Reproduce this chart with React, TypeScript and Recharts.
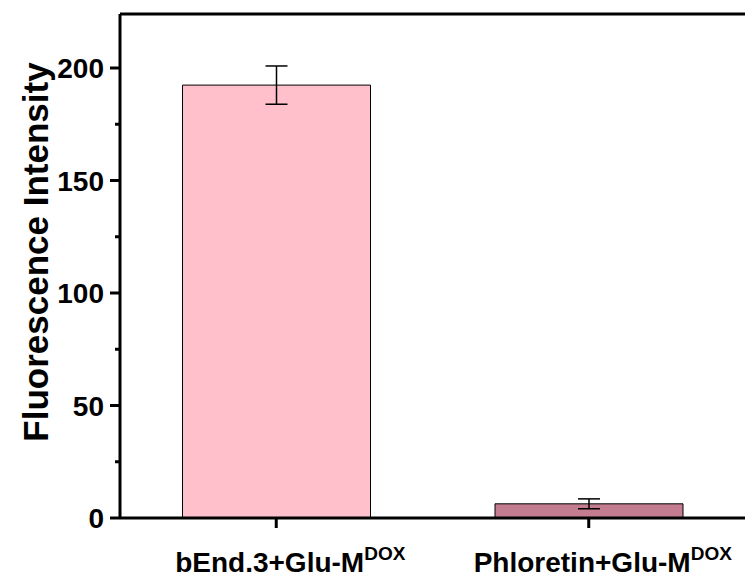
import { BarChart, Bar, Cell, ErrorBar, XAxis, YAxis, ReferenceLine } from 'recharts';

const CATEGORIES = ['bEnd.3+Glu-M', 'Phloretin+Glu-M'];
const CATEGORY_SUPERSCRIPTS = ['DOX', 'DOX'];
const INTENSITY = [192.4, 6.3];
const INTENSITY_ERR = [8.5, 2.2];
const BAR_COLORS = ['#FFC0CB', '#C47C91'];
const Y_TICKS = [0, 25, 50, 75, 100, 125, 150, 175, 200];
const Y_LABELED = [0, 50, 100, 150, 200];
const Y_MAX = 224;

const FONT = 'Arial, "Liberation Sans", Helvetica, sans-serif';

const data = CATEGORIES.map((name, i) => ({
  name,
  value: INTENSITY[i],
  err: INTENSITY_ERR[i],
}));

const XTick = (props: any) => {
  const { x, y, payload, index } = props;
  return (
    <g>
      <line x1={x} x2={x} y1={y} y2={y + 10} stroke="#000" strokeWidth={3} />
      <text
        x={x + 14}
        y={572}
        textAnchor="middle"
        fontFamily={FONT}
        fontWeight="bold"
        fontSize={28}
        fill="#000"
      >
        {payload.value}
        <tspan dy={-12} fontSize={19}>
          {CATEGORY_SUPERSCRIPTS[index]}
        </tspan>
      </text>
    </g>
  );
};

const YTick = (props: any) => {
  const { x, y, payload } = props;
  const major = Y_LABELED.includes(payload.value);
  return (
    <g>
      <line x1={x - (major ? 10 : 5)} x2={x} y1={y} y2={y} stroke="#000" strokeWidth={3} />
      {major && (
        <text
          x={x - 16}
          y={y}
          dy="0.36em"
          textAnchor="end"
          fontFamily={FONT}
          fontWeight="bold"
          fontSize={28}
          fill="#000"
        >
          {payload.value}
        </text>
      )}
    </g>
  );
};

const YLabel = (props: any) => {
  const { viewBox } = props;
  const cy = viewBox.y + viewBox.height / 2 - 14;
  return (
    <text
      x={35}
      y={cy}
      transform={`rotate(-90, 35, ${cy})`}
      textAnchor="middle"
      dominantBaseline="central"
      fontFamily={FONT}
      fontWeight="bold"
      fontSize={35}
      fill="#000"
    >
      Fluorescence Intensity
    </text>
  );
};

export default function App() {
  return (
    <div style={{ position: 'absolute', left: 0, top: 0, background: '#fff' }}>
      <BarChart
        width={747}
        height={583}
        data={data}
        margin={{ top: 14, right: 2, left: 0, bottom: 0 }}
        barCategoryGap="20%"
      >
        <XAxis
          dataKey="name"
          height={65}
          interval={0}
          tickSize={0}
          tickMargin={0}
          tickLine={false}
          axisLine={{ stroke: '#000', strokeWidth: 3 }}
          tick={<XTick />}
        />
        <YAxis
          width={120}
          domain={[0, Y_MAX]}
          ticks={Y_TICKS}
          interval={0}
          tickSize={0}
          tickMargin={0}
          tickLine={false}
          axisLine={{ stroke: '#000', strokeWidth: 3 }}
          tick={<YTick />}
          label={YLabel}
        />
        <YAxis
          yAxisId="right"
          orientation="right"
          width={0}
          tick={false}
          tickLine={false}
          axisLine={{ stroke: '#000', strokeWidth: 2 }}
        />
        {/* top frame edge */}
        <ReferenceLine y={Y_MAX} stroke="#000" strokeWidth={3} />
        <Bar dataKey="value" stroke="#000" strokeWidth={1} isAnimationActive={false}>
          {data.map((d, i) => (
            <Cell key={d.name} fill={BAR_COLORS[i]} />
          ))}
          <ErrorBar dataKey="err" width={11} strokeWidth={1.5} stroke="#000" direction="y" />
        </Bar>
      </BarChart>
    </div>
  );
}
